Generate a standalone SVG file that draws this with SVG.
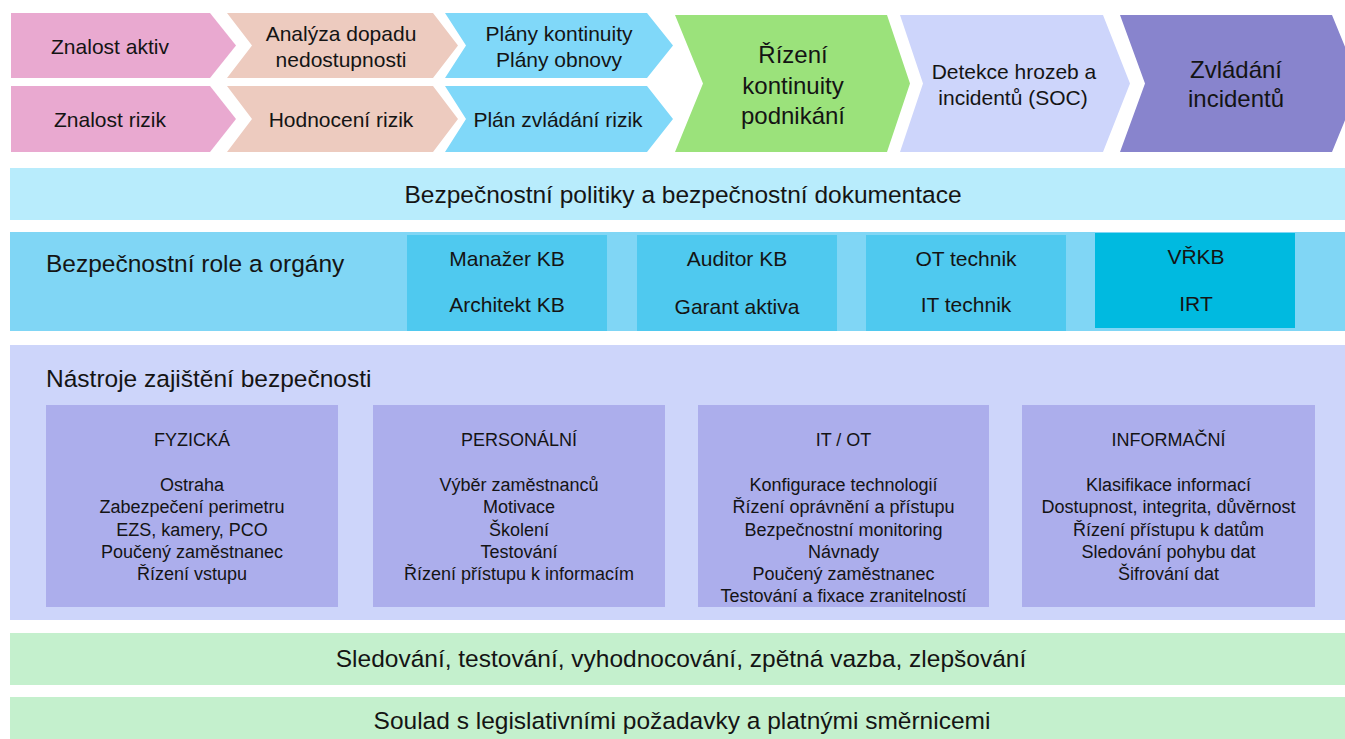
<svg xmlns="http://www.w3.org/2000/svg" width="1345" height="739" viewBox="0 0 1345 739">
<style>
text{font-family:"Liberation Sans",Arial,sans-serif;fill:#141414;text-anchor:middle}
.t21{font-size:21px}
.t24{font-size:24px}
.t25{font-size:24.5px}
.t18{font-size:18px}
.l{text-anchor:start}
.pink{fill:#E9A9D0}.beige{fill:#EDCBBF}.blue{fill:#80D8F9}.green{fill:#9BE27B}.lav{fill:#CDD5FB}.purple{fill:#8884CD}
.band1{fill:#B8ECFC}.band2{fill:#80D6F5}.role{fill:#4FC9EF}.role2{fill:#00BAE0}
.band3{fill:#CDD5FA}.tool{fill:#ACAEEC}.band4{fill:#C4F0CD}
</style>
<rect width="1345" height="739" fill="#FFFFFF"/>
<g id="znalost-aktiv"><polygon class="pink" points="11,13 210,13 236,45.5 210,78 11,78"/><text class="t21" x="110" y="54">Znalost aktiv</text></g>
<g id="znalost-rizik"><polygon class="pink" points="11,86 210,86 236,119 210,152 11,152"/><text class="t21" x="110" y="127">Znalost rizik</text></g>
<g id="analyza"><polygon class="beige" points="227,13 433,13 458,45.5 433,78 227,78 252,45.5"/><text class="t21" x="341" y="41">Analýza dopadu</text><text class="t21" x="341" y="67">nedostupnosti</text></g>
<g id="hodnoceni"><polygon class="beige" points="227,86 433,86 458,119 433,152 227,152 252,119"/><text class="t21" x="341" y="127">Hodnocení rizik</text></g>
<g id="plany"><polygon class="blue" points="445,13 647,13 673,45.5 647,78 445,78 466,45.5"/><text class="t21" x="559" y="41">Plány kontinuity</text><text class="t21" x="559" y="67">Plány obnovy</text></g>
<g id="plan-zvladani"><polygon class="blue" points="445,86 647,86 673,119 647,152 445,152 466,119"/><text class="t21" x="558" y="127">Plán zvládání rizik</text></g>
<g id="rizeni-kontinuity"><polygon class="green" points="675,15 887,15 910,83.5 887,152 675,152 703,83.5"/><text class="t24" x="793" y="63">Řízení</text><text class="t24" x="793" y="94">kontinuity</text><text class="t24" x="793" y="124">podnikání</text></g>
<g id="detekce"><polygon class="lav" points="900,15 1103,15 1130,83.5 1103,152 900,152 923,83.5"/><text class="t21" x="1014" y="79">Detekce hrozeb a</text><text class="t21" x="1013" y="105">incidentů (SOC)</text></g>
<g id="zvladani"><polygon class="purple" points="1120,15 1332,15 1360,83.5 1332,152 1120,152 1145,83.5"/><text class="t24" x="1236" y="78">Zvládání</text><text class="t24" x="1236" y="107">incidentů</text></g>
<g id="politiky"><rect class="band1" x="10" y="168" width="1335" height="52"/><text class="t25" x="683" y="203">Bezpečnostní politiky a bezpečnostní dokumentace</text></g>
<g id="role"><rect class="band2" x="10" y="232" width="1335" height="99"/><text class="t25 l" x="46" y="272">Bezpečnostní role a orgány</text>
<g id="role-manazer"><rect class="role" x="407" y="235" width="200" height="96"/><text class="t21" x="507" y="266">Manažer KB</text><text class="t21" x="507" y="312">Architekt KB</text></g>
<g id="role-auditor"><rect class="role" x="637" y="235" width="200" height="96"/><text class="t21" x="737" y="266">Auditor KB</text><text class="t21" x="737" y="314">Garant aktiva</text></g>
<g id="role-technik"><rect class="role" x="866" y="235" width="200" height="96"/><text class="t21" x="966" y="266">OT technik</text><text class="t21" x="966" y="312">IT technik</text></g>
<g id="role-vrkb"><rect class="role2" x="1095" y="233" width="200" height="95"/><text class="t21" x="1196" y="264">VŘKB</text><text class="t21" x="1196" y="311">IRT</text></g>
</g>
<g id="nastroje"><rect class="band3" x="10" y="345" width="1335" height="275"/><text class="t25 l" x="46" y="387">Nástroje zajištění bezpečnosti</text>
<g id="fyzicka"><rect class="tool" x="46" y="405" width="292" height="202"/><text class="t18" x="192" y="446">FYZICKÁ</text>
<text class="t18" x="192" y="491">Ostraha</text><text class="t18" x="192" y="513">Zabezpečení perimetru</text><text class="t18" x="192" y="536">EZS, kamery, PCO</text><text class="t18" x="192" y="558">Poučený zaměstnanec</text><text class="t18" x="192" y="580">Řízení vstupu</text></g>
<g id="personalni"><rect class="tool" x="373" y="405" width="292" height="202"/><text class="t18" x="519" y="446">PERSONÁLNÍ</text>
<text class="t18" x="519" y="491">Výběr zaměstnanců</text><text class="t18" x="519" y="513">Motivace</text><text class="t18" x="519" y="536">Školení</text><text class="t18" x="519" y="558">Testování</text><text class="t18" x="519" y="580">Řízení přístupu k informacím</text></g>
<g id="itot"><rect class="tool" x="698" y="405" width="291" height="202"/><text class="t18" x="843.5" y="446">IT / OT</text>
<text class="t18" x="843.5" y="491">Konfigurace technologií</text><text class="t18" x="843.5" y="513">Řízení oprávnění a přístupu</text><text class="t18" x="843.5" y="536">Bezpečnostní monitoring</text><text class="t18" x="843.5" y="558">Návnady</text><text class="t18" x="843.5" y="580">Poučený zaměstnanec</text><text class="t18" x="843.5" y="602">Testování a fixace zranitelností</text></g>
<g id="informacni"><rect class="tool" x="1022" y="405" width="293" height="202"/><text class="t18" x="1168.5" y="446">INFORMAČNÍ</text>
<text class="t18" x="1168.5" y="491">Klasifikace informací</text><text class="t18" x="1168.5" y="513">Dostupnost, integrita, důvěrnost</text><text class="t18" x="1168.5" y="536">Řízení přístupu k datům</text><text class="t18" x="1168.5" y="558">Sledování pohybu dat</text><text class="t18" x="1168.5" y="580">Šifrování dat</text></g>
</g>
<g id="sledovani"><rect class="band4" x="10" y="633" width="1335" height="52"/><text class="t25" x="681" y="667">Sledování, testování, vyhodnocování, zpětná vazba, zlepšování</text></g>
<g id="soulad"><rect class="band4" x="10" y="697" width="1335" height="42"/><text class="t25" x="682" y="729">Soulad s legislativními požadavky a platnými směrnicemi</text></g>
<g id="connectors"/>
</svg>
